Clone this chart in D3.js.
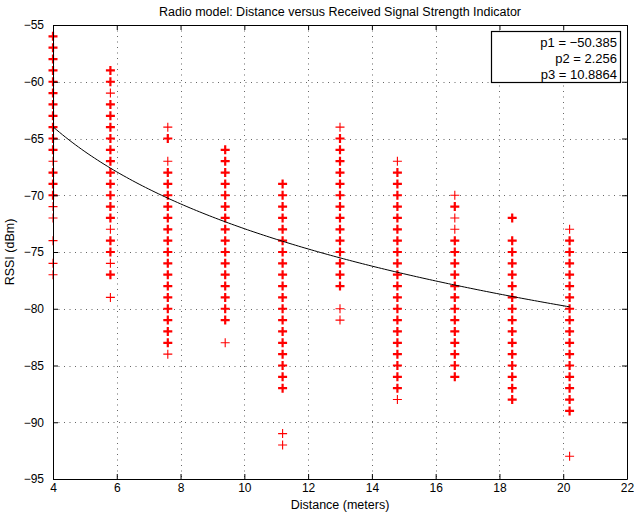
<!DOCTYPE html>
<html>
<head>
<meta charset="utf-8">
<script src="https://cdn.jsdelivr.net/npm/d3@7"></script>
<style>
  body { margin: 0; background: #fff; }
  svg { display: block; font-family: "Liberation Sans", Arial, Helvetica, sans-serif; }
</style>
</head>
<body>
<script>
// distances where readings were taken (meters)
var distances = [4, 5.8, 7.6, 9.4, 11.2, 13, 14.8, 16.6, 18.4, 20.2];

// RSSI readings (dBm) seen at each distance
var rssi4    = [-56, -57, -58, -59, -60, -61, -62, -63, -64, -65, -66, -67, -68, -69, -70, -71, -72, -74, -76, -77];
var rssi5_8  = [-59, -60, -61, -62, -63, -64, -65, -66, -67, -68, -69, -70, -71, -72, -73, -74, -75, -76, -77, -79];
var rssi7_6  = [-64, -65, -67, -68, -69, -70, -71, -72, -73, -74, -75, -76, -77, -78, -79, -80, -81, -82, -83, -84];
var rssi9_4  = [-66, -67, -68, -69, -70, -71, -72, -73, -74, -75, -76, -77, -78, -79, -80, -81, -83];
var rssi11_2 = [-69, -70, -71, -72, -73, -74, -75, -76, -77, -78, -79, -80, -81, -82, -83, -84, -85, -86, -87, -91, -92];
var rssi13   = [-64, -65, -66, -67, -68, -69, -70, -71, -72, -73, -74, -75, -76, -77, -78, -80, -81];
var rssi14_8 = [-67, -68, -69, -70, -71, -72, -73, -74, -75, -76, -77, -78, -79, -80, -81, -82, -83, -84, -85, -86, -87, -88];
var rssi16_6 = [-70, -71, -72, -73, -74, -75, -76, -77, -78, -79, -80, -81, -82, -83, -84, -85, -86];
var rssi18_4 = [-72, -74, -75, -76, -77, -78, -79, -80, -81, -82, -83, -84, -85, -86, -87, -88];
var rssi20_2 = [-73, -74, -75, -76, -77, -78, -79, -80, -81, -82, -83, -84, -85, -86, -87, -88, -89, -93];

// readings that showed up only once (drawn with a thinner cross)
var single4    = [-67, -71, -72, -74, -76, -77];
var single5_8  = [-61, -73, -76, -79];
var single7_6  = [-64, -67, -84];
var single9_4  = [-83];
var single11_2 = [-91, -92];
var single13   = [-64, -80, -81];
var single14_8 = [-67, -88];
var single16_6 = [-70, -72, -73];
var single18_4 = [];
var single20_2 = [-73, -93];

// fitted model: rssi = p1 - 10*p2*log10(d), p3 = sigma
var fitNames  = ["p1", "p2", "p3"];
var fitValues = [-50.385, 2.256, 10.8864];
var fitLabels = ["\u221250.385", "2.256", "10.8864"];

var xTicks = [4, 6, 8, 10, 12, 14, 16, 18, 20, 22];
var yTicks = [-95, -90, -85, -80, -75, -70, -65, -60, -55];

var readings = [rssi4, rssi5_8, rssi7_6, rssi9_4, rssi11_2, rssi13, rssi14_8, rssi16_6, rssi18_4, rssi20_2];
var singles  = [single4, single5_8, single7_6, single9_4, single11_2, single13, single14_8, single16_6, single18_4, single20_2];

var W = 634, H = 512;
var pLeft = 53, pRight = 627, pTop = 25, pBottom = 479;

var svg = d3.select("body").append("svg").attr("width", W).attr("height", H);

var x = d3.scaleLinear().domain([4, 22]).range([pLeft, pRight]);
var y = d3.scaleLinear().domain([-95, -55]).range([pBottom, pTop]);

// grid
var grid = svg.append("g").attr("stroke", "#666").attr("stroke-width", 1).attr("stroke-dasharray", "1,4.5");
grid.selectAll(".gx").data(xTicks.slice(1, -1)).enter().append("line")
  .attr("x1", function (d) { return Math.round(x(d)) + 0.5; })
  .attr("x2", function (d) { return Math.round(x(d)) + 0.5; })
  .attr("y1", pTop).attr("y2", pBottom);
grid.selectAll(".gy").data(yTicks.slice(1, -1)).enter().append("line")
  .attr("y1", function (d) { return Math.round(y(d)) + 0.5; })
  .attr("y2", function (d) { return Math.round(y(d)) + 0.5; })
  .attr("x1", pLeft).attr("x2", pRight);

// markers
var pts = [];
distances.forEach(function (d, i) {
  readings[i].forEach(function (v) {
    pts.push({ d: d, v: v, thin: singles[i].indexOf(v) >= 0 });
  });
});

var s = 4.5;
svg.append("g").selectAll("path").data(pts).enter().append("path")
  .attr("d", function (p) {
    var cx = x(p.d), cy = y(p.v);
    return "M" + (cx - s) + "," + cy + "H" + (cx + s) + "M" + cx + "," + (cy - s) + "V" + (cy + s);
  })
  .attr("stroke", "#ff0000")
  .attr("stroke-width", function (p) { return p.thin ? 1.1 : 2.2; })
  .attr("fill", "none");

// fitted curve
var curveD = d3.range(4, 20.2001, 0.1);
var line = d3.line()
  .x(function (d) { return x(d); })
  .y(function (d) { return y(fitValues[0] - 10 * fitValues[1] * Math.log10(d)); });
svg.append("path").datum(curveD).attr("d", line)
  .attr("fill", "none").attr("stroke", "#000").attr("stroke-width", 1);

// axes box with inward ticks
var fmt = function (d) { return d < 0 ? "\u2212" + Math.abs(d) : String(d); };
var tl = 5;

var xb = svg.append("g").attr("transform", "translate(0," + pBottom + ")")
  .call(d3.axisBottom(x).tickValues(xTicks).tickSizeInner(-tl).tickSizeOuter(0).tickPadding(4).tickFormat(fmt));
var xt = svg.append("g").attr("transform", "translate(0," + pTop + ")")
  .call(d3.axisTop(x).tickValues(xTicks).tickSizeInner(-tl).tickSizeOuter(0).tickFormat(""));
var yl = svg.append("g").attr("transform", "translate(" + pLeft + ",0)")
  .call(d3.axisLeft(y).tickValues(yTicks).tickSizeInner(-tl).tickSizeOuter(0).tickPadding(9).tickFormat(fmt));
var yr = svg.append("g").attr("transform", "translate(" + pRight + ",0)")
  .call(d3.axisRight(y).tickValues(yTicks).tickSizeInner(-tl).tickSizeOuter(0).tickFormat(""));

[xb, xt, yl, yr].forEach(function (g) {
  g.selectAll(".domain").attr("stroke", "#000").attr("stroke-width", 1);
  g.selectAll(".tick line").attr("stroke", "#000");
  g.selectAll("text").attr("font-size", 12).attr("fill", "#000")
    .attr("font-family", "'Liberation Sans', Arial, sans-serif");
});

// title and labels
svg.append("text").attr("x", (pLeft + pRight) / 2).attr("y", 16)
  .attr("text-anchor", "middle").attr("font-size", 12.5)
  .text("Radio model: Distance versus Received Signal Strength Indicator");
svg.append("text").attr("x", (pLeft + pRight) / 2).attr("y", 509)
  .attr("text-anchor", "middle").attr("font-size", 12.5)
  .text("Distance (meters)");
svg.append("text").attr("transform", "translate(14," + ((pTop + pBottom) / 2) + ") rotate(-90)")
  .attr("text-anchor", "middle").attr("font-size", 12.5)
  .text("RSSI (dBm)");

// legend box with fit parameters
var lg = svg.append("g");
lg.append("rect").attr("x", 491.5).attr("y", 31.5).attr("width", 129).attr("height", 51)
  .attr("fill", "#fff").attr("stroke", "#000").attr("stroke-width", 1.2);
lg.selectAll("text").data(fitNames).enter().append("text")
  .attr("x", 617).attr("y", function (d, i) { return 47 + i * 16; })
  .attr("text-anchor", "end").attr("font-size", 13)
  .text(function (d, i) { return d + " = " + fitLabels[i]; });
</script>
</body>
</html>
